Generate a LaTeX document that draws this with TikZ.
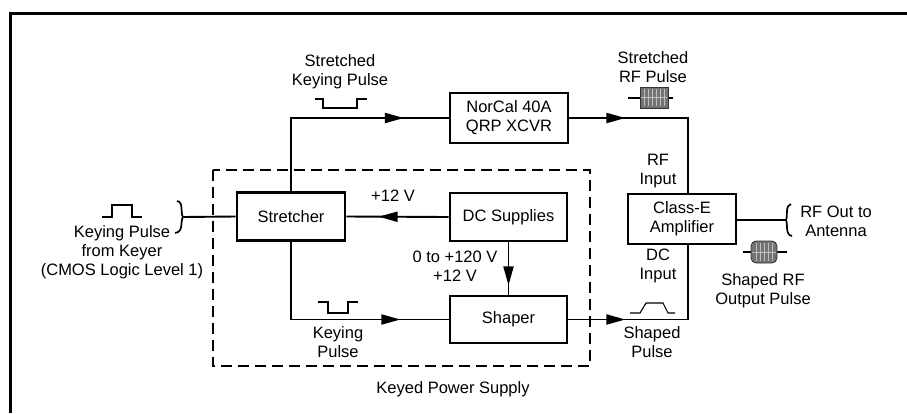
\documentclass[tikz,border=0pt]{standalone}
\usepackage{fontspec}
\setmainfont{Liberation Sans}
\usetikzlibrary{arrows.meta,decorations.markings,calc}
\begin{document}
\begin{tikzpicture}[x=1pt,y=-1pt,
  txt/.style={font=\fontsize{16.5}{19}\selectfont, align=center, inner sep=0pt},
  blk/.style={draw, line width=2.8pt, minimum width=#1, minimum height=48pt, inner sep=0pt, font=\fontsize{16.5}{19}\selectfont, align=center},
  conn/.style={line width=1.9pt},
  marrow/.style={postaction={decorate},decoration={markings,mark=at position #1 with {\arrow{Triangle[length=19pt,width=10pt]}}}},
  sig/.style={line width=1.1pt},
  rfbody/.style={draw=black!80, fill=black!55, line width=0.8pt}
]
\useasboundingbox (0,0) rectangle (907,413);
% frame
\draw[line width=3pt] (10.5,413) -- (10.5,13.5) -- (907,13.5);
% dashed keyed power supply box
\draw[line width=1.1pt, dash pattern=on 11pt off 6pt] (213,170) rectangle (590,366);
\node[txt] (kps) at (453,389) {Keyed Power Supply};

% blocks
\node[blk=108pt] (stretcher) at (291,216.5) {Stretcher};
\node[blk=118pt, minimum height=50pt] (norcal) at (509,118) {NorCal 40A\\QRP XCVR};
\node[blk=117pt] (dcsup) at (508.5,217) {DC Supplies};
\node[blk=117pt, minimum height=47pt] (shaper) at (508.5,319.5) {Shaper};
\node[blk=108pt, minimum height=50pt] (classe) at (682,219) {Class-E\\Amplifier};

% helper coordinates
\coordinate (rfin) at (688,118);
\coordinate (dcin) at (688,319.5);
\coordinate (inbrace) at (183,217);
\coordinate (outbrace) at (786,220);

% connectors
\draw[conn, marrow=186pt] (stretcher.north) |- (norcal.west);
\draw[conn, marrow=56pt] (norcal.east) -- (rfin) -- (rfin |- classe.north);
\draw[conn, marrow=70pt] (dcsup.west) -- (stretcher.east);
\draw[conn, marrow=43pt] (dcsup.south) -- (shaper.north);
\draw[conn, marrow=187pt] (stretcher.south) |- (shaper.west);
\draw[conn, marrow=57pt] (shaper.east) -- (dcin) -- (dcin |- classe.south);
\draw[conn] (inbrace) -- (stretcher.west);
\draw[conn] (classe.east |- outbrace) -- (outbrace);

% braces
\draw[line width=1.7pt] (177,201) .. controls (184,202) and (180,213) .. (inbrace) .. controls (180,221) and (184,232) .. (175,233);
\draw[line width=1.7pt] (791,204) .. controls (785,205) and (788,216) .. (outbrace) .. controls (788,224) and (785,235) .. (792,236);

% labels
\node[txt] (lskp) at (340,72) {Stretched\\Keying Pulse};
\node[txt] (lsrf) at (653,67) {Stretched\\RF Pulse};
\node[txt] (lkey) at (122,252) {Keying Pulse\\from Keyer\\(CMOS Logic Level 1)};
\node[txt] (l12) at (393,196) {+12 V};
\node[txt] (l120) at (455,266) {0 to +120 V\\+12 V};
\node[txt] (lkp) at (338,342) {Keying\\Pulse};
\node[txt] (lrfin) at (658,171) {RF\\Input};
\node[txt] (ldcin) at (658,266) {DC\\Input};
\node[txt] (lsp) at (652,342) {Shaped\\Pulse};
\node[txt] (lout) at (836,221) {RF Out to\\Antenna};
\node[txt] (lsrfo) at (763,291) {Shaped RF\\Output Pulse};

% pulse symbols
\draw[sig] (102,217) -- (112,217) -- (112,205) -- (132,205) -- (132,217) -- (142,217);
\draw[sig] (315,99) -- (323,99) -- (323,108) -- (357,108) -- (357,99) -- (367,99);
\draw[sig] (318,302) -- (328,302) -- (328,313) -- (348,313) -- (348,302) -- (358,302);
\draw[sig] (630,313) -- (640,313) -- (646,303) -- (663,303) -- (668,313) -- (675,313);

% RF pulse icons
\draw[sig] (628,98) -- (673,98);
\draw[rfbody] (640,87) rectangle (668,108);
\foreach \xx in {644,648,652,656,660,664} \draw[black!25, line width=0.5pt] (\xx,89) -- (\xx,106);
\draw[black!25, line width=0.5pt] (641,97) -- (667,97);

\draw[sig] (743,252) -- (787,252);
\draw[rfbody, rounded corners=5pt] (751,241) rectangle (777,263);
\foreach \xx in {756,760,764,768,772} \draw[black!25, line width=0.5pt] (\xx,243) -- (\xx,261);
\draw[black!25, line width=0.5pt] (752,252) -- (776,252);
\end{tikzpicture}
\end{document}
